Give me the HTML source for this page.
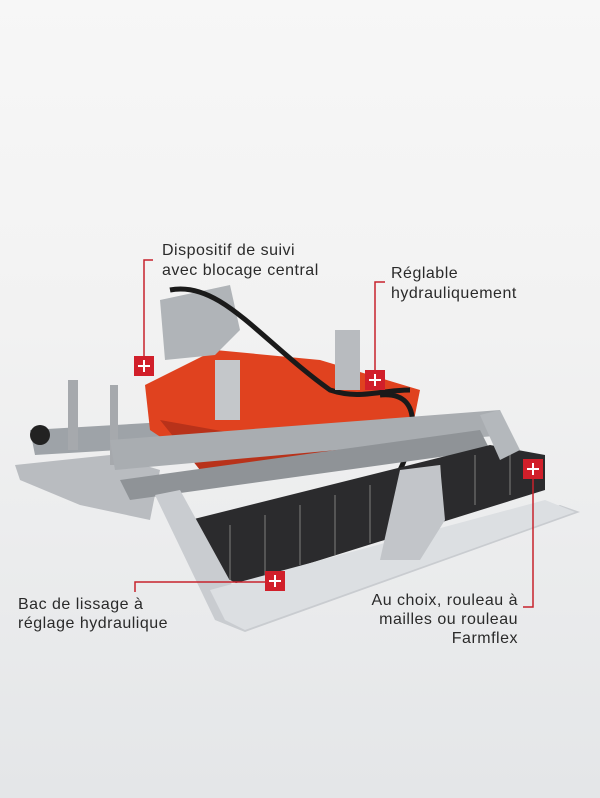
<!DOCTYPE html>
<html><head><meta charset="utf-8"><style>
html,body{margin:0;padding:0;}
body{width:600px;height:798px;overflow:hidden;background:linear-gradient(#f7f7f7 0%,#f2f2f2 40%,#e4e6e8 100%);font-family:"Liberation Sans",sans-serif;}
svg{position:absolute;left:0;top:0}
.t{font-family:"Liberation Sans",sans-serif;font-size:16px;letter-spacing:0.5px;fill:#2a2a2a}
</style></head><body>
<svg width="600" height="798" viewBox="0 0 600 798">
<polygon points="15,465 110,455 160,470 150,520 80,505 20,480" fill="#b9bcc0"/>
<polygon points="30,430 200,420 205,445 35,455" fill="#9ea3a8"/>
<circle cx="40" cy="435" r="10" fill="#222"/>
<rect x="68" y="380" width="10" height="70" fill="#a6a9ad"/>
<rect x="110" y="385" width="8" height="80" fill="#a6a9ad"/>
<polygon points="145,385 215,350 320,360 420,390 410,440 300,470 210,470 150,430" fill="#e0421f"/>
<polygon points="160,420 300,445 410,430 405,450 300,475 200,470" fill="#b8321a"/>
<polygon points="160,300 230,285 240,330 215,355 165,360" fill="#b0b4b8"/>
<path d="M170,290 C220,280 260,340 330,390 C360,400 380,390 410,390" stroke="#1a1a1a" stroke-width="5" fill="none"/>
<path d="M380,395 C430,390 410,450 400,470" stroke="#1a1a1a" stroke-width="5" fill="none"/>
<rect x="335" y="330" width="25" height="60" fill="#b8bbbf"/>
<rect x="215" y="360" width="25" height="60" fill="#c4c7ca"/>
<polygon points="110,440 500,410 505,435 115,470" fill="#a9adb1"/>
<polygon points="120,480 480,430 490,450 130,500" fill="#8f9397"/>
<polygon points="190,520 490,445 545,455 545,490 240,585 200,565" fill="#2b2b2d"/>
<g fill="none" stroke="#555" stroke-width="2">
<path d="M230,525 v55 M265,515 v60 M300,505 v60 M335,495 v60 M370,485 v58 M405,475 v56 M440,465 v55 M475,455 v50 M510,450 v45"/>
</g>
<polygon points="155,495 180,490 235,590 560,505 580,512 245,632 215,620" fill="#c9ccd0"/>
<polygon points="210,590 545,500 575,512 245,630 225,620" fill="#dcdfe2"/>
<polygon points="380,560 400,470 440,465 445,520 420,560" fill="#c2c5c9"/>
<polygon points="480,415 500,410 520,450 500,460" fill="#b4b8bc"/>
<g stroke="#c8232c" stroke-width="1.5" fill="none">
<polyline points="153,260 144,260 144,357"/>
<polyline points="385,282 375,282 375,372"/>
<polyline points="533,478 533,607 523,607"/>
<polyline points="266,582 135,582 135,592"/>
</g>
<g fill="#d11f2a">
<rect x="134" y="356" width="20" height="20"/>
<rect x="365" y="370" width="20" height="20"/>
<rect x="523" y="459" width="20" height="20"/>
<rect x="265" y="571" width="20" height="20"/>
</g>
<g stroke="#fff" stroke-width="2">
<path d="M138,366h12M144,360v12"/>
<path d="M369,380h12M375,374v12"/>
<path d="M527,469h12M533,463v12"/>
<path d="M269,581h12M275,575v12"/>
</g>
<text class="t" x="162" y="255">Dispositif de suivi</text>
<text class="t" x="162" y="275">avec blocage central</text>
<text class="t" x="391" y="278">Réglable</text>
<text class="t" x="391" y="298">hydrauliquement</text>
<text class="t" x="18" y="609">Bac de lissage à</text>
<text class="t" x="18" y="628">réglage hydraulique</text>
<text class="t" x="518" y="605" text-anchor="end">Au choix, rouleau à</text>
<text class="t" x="518" y="624" text-anchor="end">mailles ou rouleau</text>
<text class="t" x="518" y="643" text-anchor="end">Farmflex</text>
</svg>
</body></html>
